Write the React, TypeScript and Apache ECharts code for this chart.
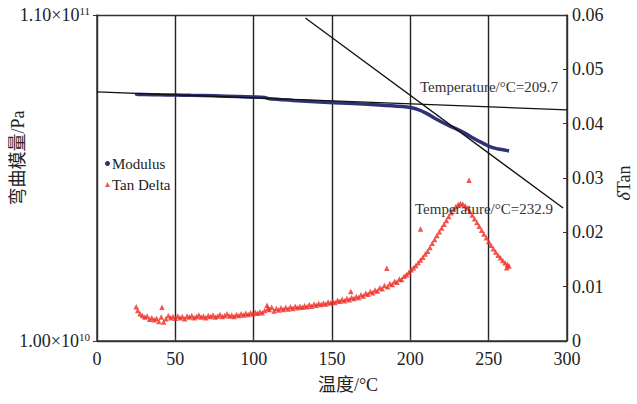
import React, { useEffect, useRef } from "react";
import * as echarts from "echarts";

const xTicks = [0, 50, 100, 150, 200, 250, 300];
const rightTickLabels = ["0", "0.01", "0.02", "0.03", "0.04", "0.05", "0.06"];
const leftTickLabels = ["1.00×10|10", "1.10×10|11"];

const modulusData: [number, number][] = [
  [25, 8.52e10], [25.5, 8.56e10], [30, 8.56e10], [40, 8.55e10], [50, 8.545e10], [60, 8.535e10],
  [75, 8.52e10], [90, 8.5e10], [100, 8.485e10], [107, 8.47e10], [108.5, 8.45e10], [110, 8.43e10],
  [125, 8.38e10], [142, 8.33e10], [160, 8.29e10], [180, 8.24e10], [195, 8.19e10], [200, 8.16e10],
  [205, 8.1e10], [210, 7.99e10], [215, 7.85e10], [220, 7.72e10], [225, 7.6e10], [230, 7.49e10],
  [235, 7.37e10], [240, 7.23e10], [245, 7.1e10], [250, 6.98e10], [255, 6.9e10], [260, 6.86e10],
  [263, 6.83e10],
];

const tangentLow: [number, number][] = [[0, 8.64e10], [300, 8.09e10]];
const tangentHigh: [number, number][] = [[133, 1.091e11], [297.5, 5.08e10]];

const tanDeltaData: [number, number][] = [
  [25, 0.0063], [26, 0.0056], [27.5, 0.005], [29, 0.0047], [30.5, 0.0044], [32, 0.0046],
  [33.5, 0.004], [35, 0.0043], [36.5, 0.0039], [38, 0.0042], [39.5, 0.0036], [41, 0.0044],
  [41.5, 0.0062], [42.5, 0.0035], [44, 0.0041], [45.5, 0.0047], [47, 0.0043], [48.5, 0.0045],
  [50, 0.0042], [51.5, 0.0046], [53, 0.0043], [54.5, 0.0045], [56, 0.0041], [57.5, 0.0046],
  [59, 0.0044], [60.5, 0.0047], [62, 0.0043], [63.5, 0.0045], [65, 0.0048], [66.5, 0.0044],
  [68, 0.0046], [69.5, 0.0043], [71, 0.0047], [72.5, 0.0045], [74, 0.0048], [75.5, 0.0044],
  [77, 0.0046], [78.5, 0.0049], [80, 0.0045], [81.5, 0.0047], [83, 0.005], [84.5, 0.0046],
  [86, 0.0048], [87.5, 0.0045], [89, 0.0049], [90.5, 0.0047], [92, 0.005], [93.5, 0.0048],
  [95, 0.0051], [96.5, 0.0049], [98, 0.0052], [99.5, 0.005], [101, 0.0053], [102.5, 0.0051],
  [104, 0.0054], [105.5, 0.0052], [107, 0.0056], [108.5, 0.0066], [109, 0.006], [110, 0.0058],
  [111.5, 0.0062], [113, 0.0055], [114.5, 0.006], [116, 0.0057], [117.5, 0.0061], [119, 0.0058],
  [120.5, 0.0062], [122, 0.0059], [123.5, 0.0063], [125, 0.006], [126.5, 0.0064], [128, 0.0061],
  [129.5, 0.0064], [131, 0.0062], [132.5, 0.0065], [134, 0.0063], [135.5, 0.0067], [137, 0.0064],
  [138.5, 0.0068], [140, 0.0066], [141.5, 0.0069], [143, 0.0067], [144.5, 0.007], [146, 0.0068],
  [147.5, 0.0072], [149, 0.007], [150.5, 0.0073], [152, 0.0071], [153.5, 0.0075], [155, 0.0073],
  [156.5, 0.0077], [158, 0.0074], [159.5, 0.0078], [161, 0.0076], [162, 0.0091], [162.5, 0.008],
  [164, 0.0078], [165.5, 0.0082], [167, 0.008], [168.5, 0.0085], [170, 0.0083], [171.5, 0.0088],
  [173, 0.0086], [174.5, 0.0091], [176, 0.0089], [177.5, 0.0094], [179, 0.0092], [180.5, 0.0098],
  [182, 0.0096], [183.5, 0.0102], [185, 0.0134], [185.5, 0.01], [187, 0.0106], [188.5, 0.0104],
  [190, 0.011], [191.5, 0.0108], [193, 0.0114], [194.5, 0.0113], [196, 0.0119], [197.5, 0.0122],
  [199, 0.0126], [200.5, 0.0131], [202, 0.0135], [203.5, 0.0139], [205, 0.0144], [206.5, 0.0206],
  [206.5, 0.0149], [208, 0.0154], [209.5, 0.016], [211, 0.0165], [212.5, 0.0172], [214, 0.018],
  [215.5, 0.0187], [217, 0.0194], [218.5, 0.0201], [220, 0.0208], [221.5, 0.0215], [223, 0.0222],
  [224.5, 0.0229], [226, 0.0236], [227.5, 0.0242], [229, 0.0247], [230.5, 0.0251], [232, 0.0253],
  [233.5, 0.0252], [235, 0.0249], [236.5, 0.0245], [237.5, 0.0296], [238, 0.0239], [239.5, 0.0232],
  [241, 0.0225], [242.5, 0.0218], [244, 0.0211], [245.5, 0.0204], [247, 0.0197], [248.5, 0.019],
  [250, 0.0183], [251.5, 0.0176], [253, 0.017], [254.5, 0.0164], [256, 0.0158], [257.5, 0.0153],
  [259, 0.0148], [260.5, 0.0144], [261.5, 0.0135], [262, 0.0141], [263, 0.0138],
];

const annotations = ["Temperature/°C=209.7", "Temperature/°C=232.9"];

const SERIF = "'Liberation Serif', 'Times New Roman', serif";
const CJK = "'Liberation Serif', 'Noto Sans CJK SC', serif";
const TXT = "#222222";

export default function App() {
  const ref = useRef<HTMLDivElement>(null);
  useEffect(() => {
    if (!ref.current) return;
    const chart = echarts.init(ref.current, undefined, { renderer: "svg" });
    const axisLine = { show: true, lineStyle: { color: "#333", width: 1.5 } };
    chart.setOption({
      animation: false,
      backgroundColor: "#fff",
      grid: { left: 97, right: 70, top: 15, bottom: 63, containLabel: false },
      legend: {
        orient: "vertical",
        left: 100,
        top: 151,
        itemGap: 6,
        itemWidth: 5,
        itemHeight: 5,
        textStyle: { fontFamily: SERIF, fontSize: 15, color: TXT, padding: [0, 0, 0, -3] },
        data: [
          { name: "Modulus", icon: "circle" },
          { name: "Tan Delta", icon: "triangle" },
        ],
      },
      xAxis: {
        type: "value",
        min: xTicks[0],
        max: xTicks[xTicks.length - 1],
        interval: 50,
        axisLine,
        axisTick: { show: true, inside: true, length: 4, lineStyle: { color: "#333" } },
        axisLabel: { fontFamily: SERIF, fontSize: 18, color: TXT, margin: 9 },
        splitLine: { show: true, lineStyle: { color: "#222", width: 1.4 } },
      },
      yAxis: [
        {
          type: "value",
          min: 1e10,
          max: 1.1e11,
          interval: 1e11,
          axisLine,
          axisTick: { show: true, inside: false, length: 4, lineStyle: { color: "#333" } },
          splitLine: { show: true, lineStyle: { color: "#333", width: 1.4 } },
          axisLabel: {
            margin: 7,
            formatter: (v: number) => {
              const s = v < 5e10 ? leftTickLabels[0] : leftTickLabels[1];
              const [m, e] = s.split("|");
              return `{a|${m}}{b|${e}}`;
            },
            rich: {
              a: { fontFamily: SERIF, fontSize: 18, color: TXT },
              b: { fontFamily: SERIF, fontSize: 11, color: TXT, padding: [0, 0, 9, 0] },
            },
          },
        },
        {
          type: "value",
          min: 0,
          max: 0.06,
          interval: 0.01,
          position: "right",
          axisLine,
          axisTick: { show: true, inside: true, length: 4, lineStyle: { color: "#333" } },
          splitLine: { show: false },
          axisLabel: {
            fontFamily: SERIF,
            fontSize: 18,
            color: TXT,
            margin: 5,
            formatter: (v: number) => rightTickLabels[Math.round(v * 100)] ?? "",
          },
        },
      ],
      series: [
        {
          name: "Modulus",
          type: "line",
          yAxisIndex: 0,
          data: modulusData,
          showSymbol: false,
          symbol: "circle",
          smooth: 0.3,
          color: "#2f3275",
          lineStyle: { color: "#2f3275", width: 3.5 },
          z: 3,
        },
        {
          name: "Tan Delta",
          type: "scatter",
          yAxisIndex: 1,
          data: tanDeltaData,
          symbol: "triangle",
          symbolSize: 5.5,
          color: "#ee2a22",
          itemStyle: { color: "#ee2a22" },
          z: 3,
        },
        {
          name: "tangent1",
          type: "line",
          yAxisIndex: 0,
          data: tangentLow,
          showSymbol: false,
          lineStyle: { color: "#111", width: 1.3 },
          z: 4,
        },
        {
          name: "tangent2",
          type: "line",
          yAxisIndex: 0,
          data: tangentHigh,
          showSymbol: false,
          lineStyle: { color: "#111", width: 1.3 },
          z: 4,
        },
      ],
      graphic: [
        {
          type: "text",
          left: 420,
          top: 79,
          style: { text: annotations[0], font: `15px ${SERIF}`, fill: "#333" },
          z: 10,
        },
        {
          type: "text",
          left: 415,
          top: 201,
          style: { text: annotations[1], font: `15px ${SERIF}`, fill: "#333" },
          z: 10,
        },
        {
          type: "text",
          x: 18,
          y: 158,
          rotation: Math.PI / 2,
          style: {
            text: "弯曲模量/Pa",
            font: `18px ${CJK}`,
            fill: "#222222",
            align: "center",
            verticalAlign: "middle",
          },
        },
        {
          type: "text",
          x: 624,
          y: 183,
          rotation: Math.PI / 2,
          style: {
            text: "{i|δ}{n|Tan}",
            rich: {
              i: { fontFamily: SERIF, fontSize: 18, fontStyle: "italic", fill: TXT },
              n: { fontFamily: SERIF, fontSize: 18, fill: TXT },
            },
            align: "center",
            verticalAlign: "middle",
          },
        },
        {
          type: "text",
          x: 348,
          y: 385,
          style: {
            text: "温度/°C",
            font: `18px ${CJK}`,
            fill: TXT,
            align: "center",
            verticalAlign: "middle",
          },
        },
      ],
    });
    return () => chart.dispose();
  }, []);
  return (
    <div
      ref={ref}
      style={{ position: "fixed", left: 0, top: 0, width: 637, height: 404 }}
    />
  );
}
